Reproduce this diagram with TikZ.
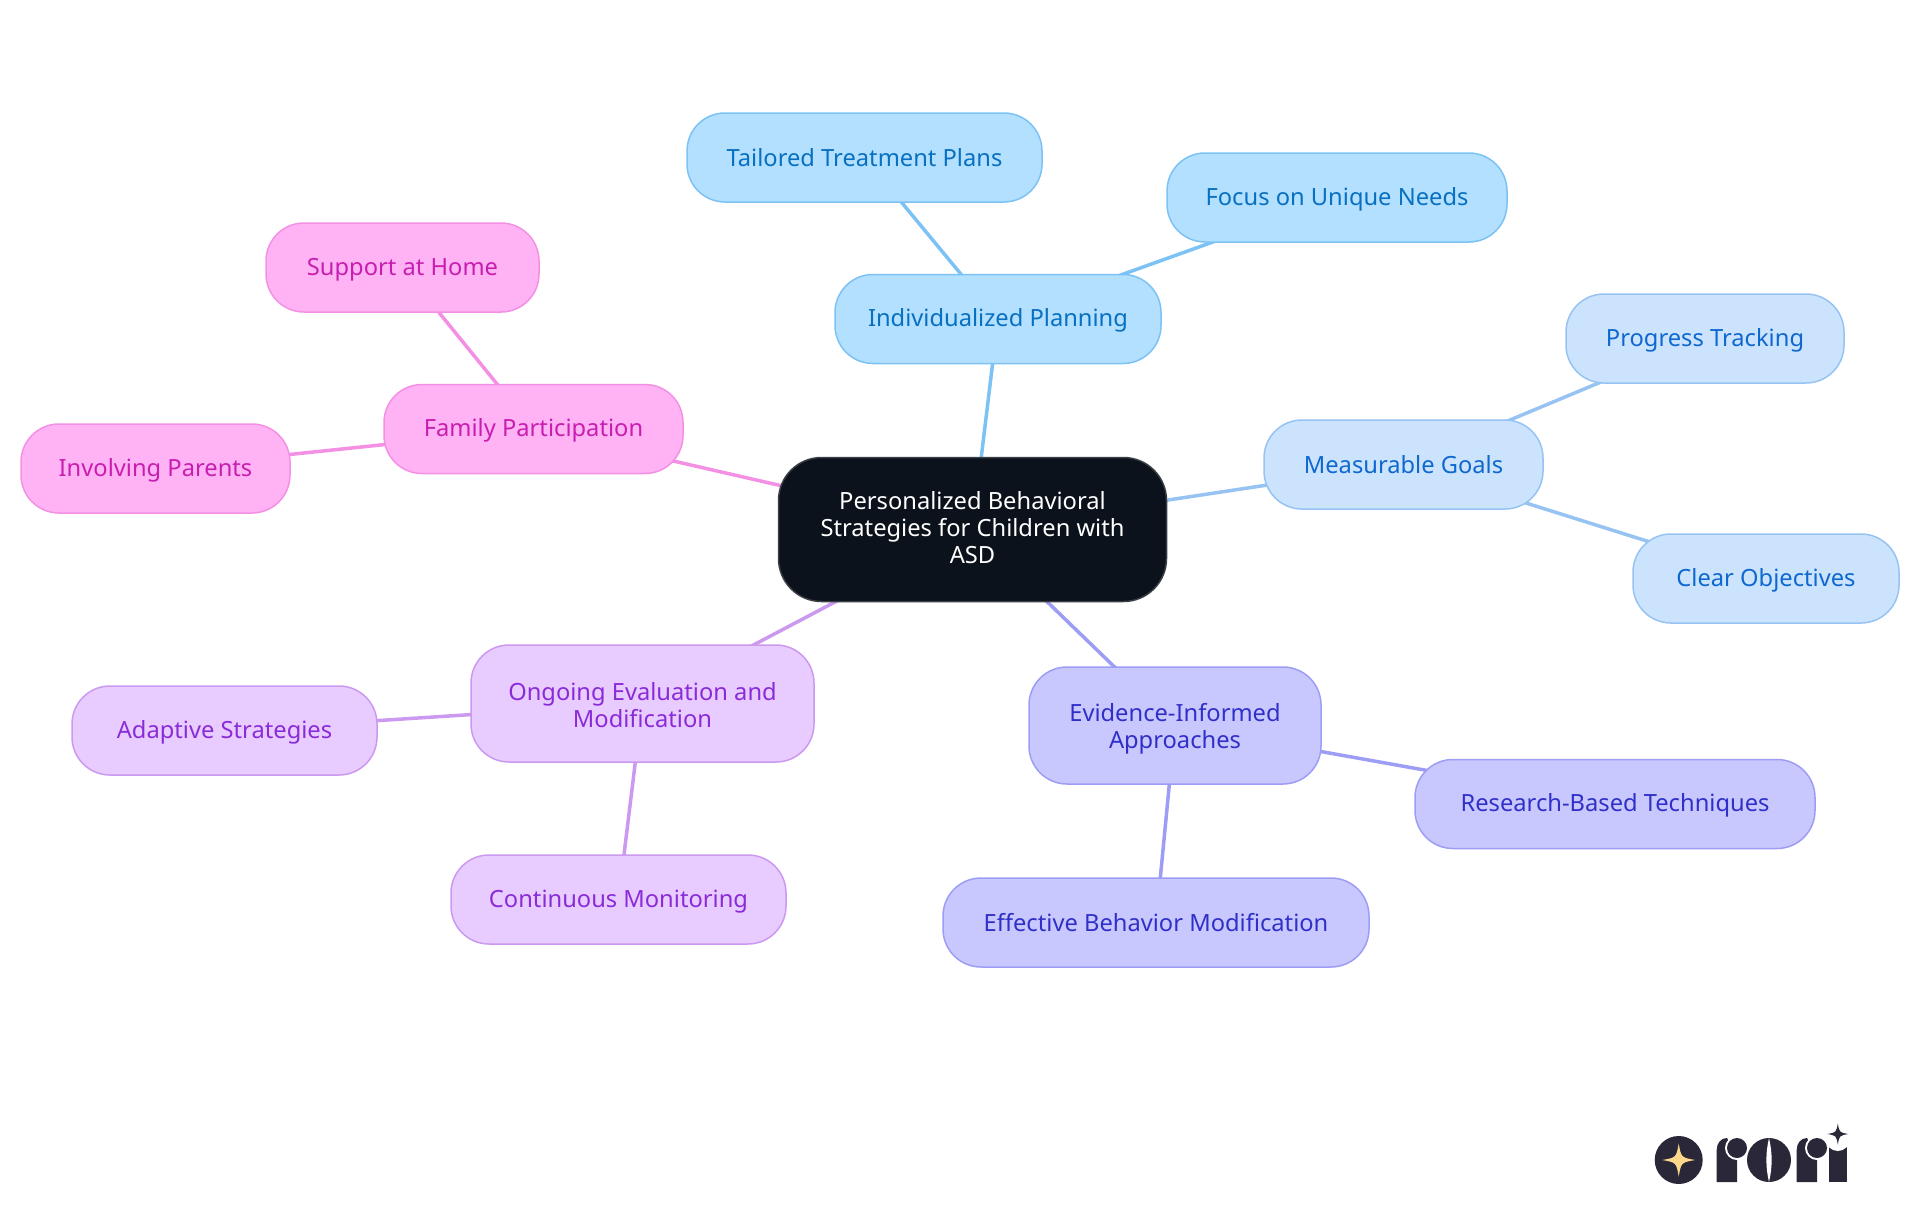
\documentclass[tikz,border=0pt]{standalone}
\usepackage{fontspec}
\setmainfont{Noto Sans}
\usetikzlibrary{backgrounds}
\definecolor{rootfill}{HTML}{0B121B}
\definecolor{rootline}{HTML}{3A3F46}
\definecolor{planfill}{HTML}{B3E0FF}
\definecolor{planline}{HTML}{7CC2F5}
\definecolor{plantext}{HTML}{0870C0}
\definecolor{goalfill}{HTML}{CCE3FD}
\definecolor{goalline}{HTML}{96C3F2}
\definecolor{goaltext}{HTML}{0E68CF}
\definecolor{evidfill}{HTML}{C8C8FF}
\definecolor{evidline}{HTML}{9D9DF5}
\definecolor{evidtext}{HTML}{3030C8}
\definecolor{evalfill}{HTML}{E8CCFF}
\definecolor{evalline}{HTML}{CC99F0}
\definecolor{evaltext}{HTML}{8A2BD8}
\definecolor{famfill}{HTML}{FFB3F5}
\definecolor{famline}{HTML}{F490E4}
\definecolor{famtext}{HTML}{C81EB0}
\definecolor{logodark}{HTML}{2A2838}
\definecolor{logogold}{HTML}{FCD98A}
\newcommand{\linestrut}{\rule[-3.6pt]{0pt}{25pt}}
\newcommand{\tallstrut}{\rule{0pt}{24pt}}
\tikzset{
  mapnode/.style={rounded corners=38pt, line width=1.5pt, align=center, inner sep=0pt,
    font=\fontsize{23.7}{27}\selectfont,
    execute at begin node=\linestrut, execute at end node=\linestrut},
  rootnode/.style={mapnode, rounded corners=43pt, fill=rootfill, draw=rootline, text=white},
  plannode/.style={mapnode, fill=planfill, draw=planline, text=plantext},
  goalnode/.style={mapnode, fill=goalfill, draw=goalline, text=goaltext},
  evidnode/.style={mapnode, fill=evidfill, draw=evidline, text=evidtext},
  evalnode/.style={mapnode, fill=evalfill, draw=evalline, text=evaltext},
  famnode/.style={mapnode, fill=famfill, draw=famline, text=famtext},
  maplink/.style={line width=3.5pt}
}
% four-pointed logo star
\newcommand{\logostar}[4]{%
  \fill[#4] (#1+#3,#2) .. controls (#1+0.15*#3,#2+0.15*#3) .. (#1,#2+#3)
    .. controls (#1-0.15*#3,#2+0.15*#3) .. (#1-#3,#2)
    .. controls (#1-0.15*#3,#2-0.15*#3) .. (#1,#2-#3)
    .. controls (#1+0.15*#3,#2-0.15*#3) .. cycle;}
\begin{document}
\begin{tikzpicture}[x=1pt,y=-1pt]
  \useasboundingbox (0,0) rectangle (1920,1215);
  % centre
  \node[rootnode, minimum width=388pt, minimum height=144pt] (root) at (972.5,529.5)
    {Personalized Behavioral\\Strategies for Children with\\ASD};
  % individualized planning
  \node[plannode, minimum width=326pt, minimum height=89pt] (planning) at (998,319) {Individualized Planning};
  \node[plannode, minimum width=355pt, minimum height=89pt] (tailored) at (864.5,157.5) {Tailored Treatment Plans};
  \node[plannode, minimum width=340pt, minimum height=89pt] (unique) at (1337,197.5) {Focus on Unique Needs};
  % measurable goals
  \node[goalnode, minimum width=279pt, minimum height=89pt] (goals) at (1403.5,464.5) {Measurable Goals};
  \node[goalnode, minimum width=278pt, minimum height=89pt] (tracking) at (1705,338.5) {Progress Tracking};
  \node[goalnode, minimum width=266pt, minimum height=89pt] (clear) at (1766,578.5) {Clear Objectives};
  % evidence
  \node[evidnode, minimum width=292pt, minimum height=117pt] (evidence) at (1175,725.5) {\tallstrut Evidence-Informed\\Approaches};
  \node[evidnode, minimum width=400pt, minimum height=89pt] (research) at (1615,804) {Research-Based Techniques};
  \node[evidnode, minimum width=426pt, minimum height=89pt] (effective) at (1156,922.5) {Effective Behavior Modification};
  % evaluation
  \node[evalnode, minimum width=343pt, minimum height=117pt] (ongoing) at (642.5,703.5) {\tallstrut Ongoing Evaluation and\\Modification};
  \node[evalnode, minimum width=305pt, minimum height=89pt] (adaptive) at (224.5,730.5) {Adaptive Strategies};
  \node[evalnode, minimum width=335pt, minimum height=89pt] (monitoring) at (618.5,899.5) {Continuous Monitoring};
  % family
  \node[famnode, minimum width=299pt, minimum height=89pt] (family) at (533.5,429) {Family Participation};
  \node[famnode, minimum width=273pt, minimum height=89pt] (home) at (402.5,267.5) {Support at Home};
  \node[famnode, minimum width=269pt, minimum height=89pt] (parents) at (155.5,468.5) {Involving Parents};
  % connectors go under the nodes
  \begin{scope}[on background layer]
    \foreach \from/\to/\col in {root/planning/planline, planning/tailored/planline, planning/unique/planline,
        root/goals/goalline, goals/tracking/goalline, goals/clear/goalline,
        root/evidence/evidline, evidence/research/evidline, evidence/effective/evidline,
        root/ongoing/evalline, ongoing/adaptive/evalline, ongoing/monitoring/evalline,
        root/family/famline, family/home/famline, family/parents/famline}
      \draw[maplink, \col] (\from.center) -- (\to.center);
  \end{scope}
  % logo
  \fill[logodark] (1678.7,1160) circle [radius=24];
  \logostar{1678.7}{1160}{16.5}{logogold}
  \foreach \dx in {0,80} {
    \fill[logodark] (1716.7+\dx,1182) -- (1716.7+\dx,1150) .. controls (1716.7+\dx,1143) and (1721+\dx,1138) .. (1727+\dx,1138) -- (1737+\dx,1155) -- (1737+\dx,1182) -- cycle;
    \fill[white] (1737+\dx,1148) circle [radius=12];
    \fill[logodark] (1737+\dx,1148) circle [radius=10];
  }
  \fill[logodark] (1769,1160) circle [radius=22];
  \fill[white] (1769,1138) .. controls (1765.5,1153) and (1765.5,1167) .. (1769,1182) .. controls (1772.5,1167) and (1772.5,1153) .. (1769,1138) -- cycle;
  \fill[logodark] (1829,1182) rectangle (1846.7,1147);
  \fill[white] (1837.8,1139) circle [radius=12];
  \logostar{1837.8}{1134}{10.5}{logodark}
\end{tikzpicture}
\end{document}
